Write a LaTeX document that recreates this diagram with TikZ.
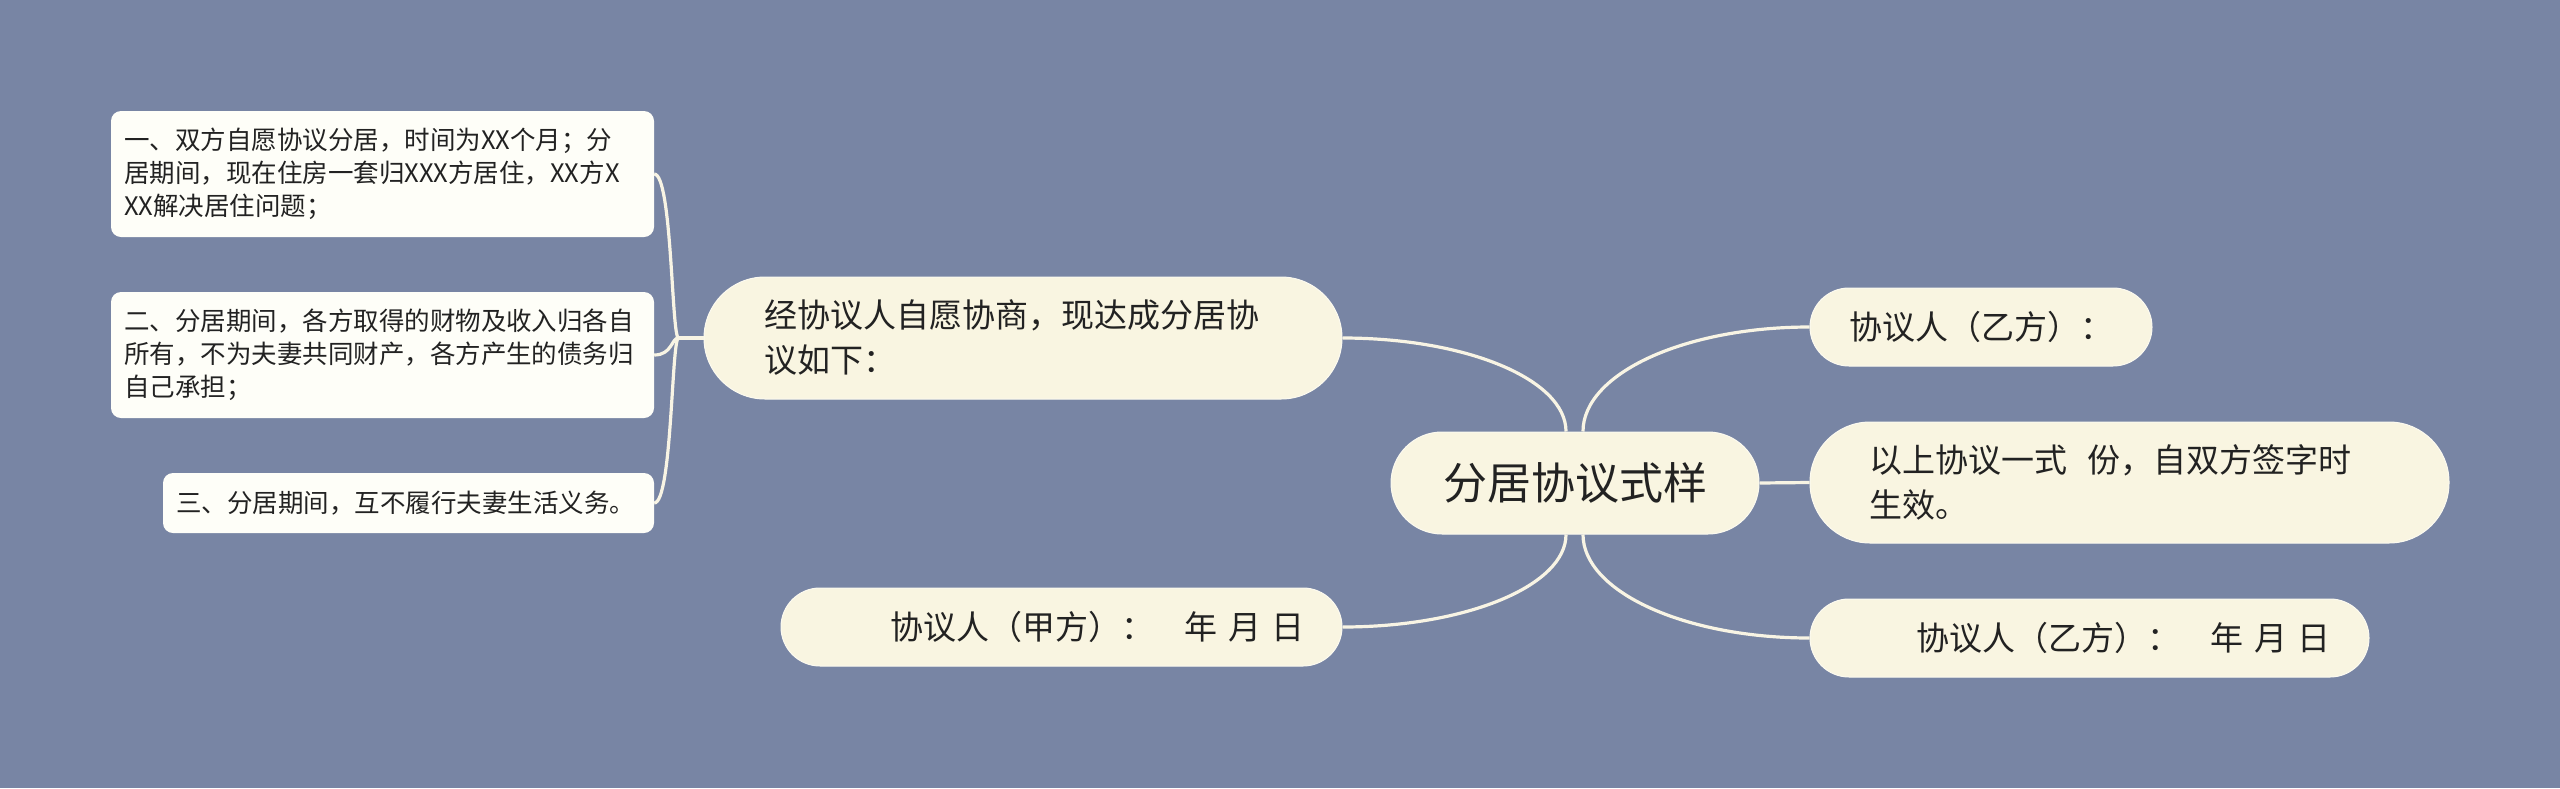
\documentclass[tikz,border=0pt]{standalone}
\usepackage{fontspec}
\setmainfont{Noto Sans CJK SC}
\definecolor{bgc}{RGB}{120,133,164}
\definecolor{pillc}{RGB}{249,245,225}
\definecolor{leafc}{RGB}{254,254,248}
\definecolor{linec}{RGB}{248,244,228}
\definecolor{txtc}{RGB}{34,34,34}
\begin{document}
\begin{tikzpicture}[x=1pt,y=-1pt,
  pill/.style={fill=pillc, draw=white!50!pillc, line width=1pt, inner sep=0pt, rounded corners=#1},
  leafbox/.style={fill=leafc, draw=none, inner sep=0pt, rounded corners=10pt},
  txt/.style={anchor=west, inner sep=0pt, align=left, text=txtc},
  big/.style={font=\fontsize{33}{45}\selectfont},
  small/.style={font=\fontsize{25.5}{33}\selectfont},
  conn/.style={draw=linec, line width=3.2pt}]
\fill[bgc] (0,0) rectangle (2560,788);
\useasboundingbox (0,0) rectangle (2560,788);
% boxes
\node[pill=51pt, minimum width=368pt, minimum height=102pt] (root) at (1575,483) {};
\node[pill=61pt, minimum width=638pt, minimum height=122pt] (jing) at (1023,338) {};
\node[pill=39pt, minimum width=561pt, minimum height=78pt] (jia) at (1061.5,627) {};
\node[pill=39pt, minimum width=342pt, minimum height=78pt] (yi1) at (1981,327) {};
\node[pill=60pt, minimum width=639pt, minimum height=121pt] (qian) at (2129.5,482.5) {};
\node[pill=39pt, minimum width=559pt, minimum height=78pt] (yi2) at (2089.5,638) {};
\node[leafbox, minimum width=543pt, minimum height=126pt] (leaf1) at (382.5,174) {};
\node[leafbox, minimum width=543pt, minimum height=126pt] (leaf2) at (382.5,355) {};
\node[leafbox, minimum width=491pt, minimum height=60pt] (leaf3) at (408.5,503) {};
% texts
\node[text=txtc, inner sep=0pt, font=\fontsize{44}{50}\selectfont] (roottxt) at (root) {分居协议式样};
\node[txt, big] (jingtxt) at ([xshift=61pt]jing.west) {经协议人自愿协商，现达成分居协\\议如下：};
\node[txt, big] (jiatxt) at ([xshift=110pt]jia.west) {协议人（甲方）：\hspace*{0.9em}年\hspace*{0.35em}月\hspace*{0.3em}日};
\node[txt, big] (yi1txt) at ([xshift=40pt]yi1.west) {协议人（乙方）：};
\node[txt, big] (qiantxt) at ([xshift=60pt]qian.west) {以上协议一式\hspace*{0.6em}份，自双方签字时\\生效。};
\node[txt, big] (yi2txt) at ([xshift=107pt]yi2.west) {协议人（乙方）：\hspace*{0.9em}年\hspace*{0.35em}月\hspace*{0.3em}日};
\node[txt, small] (leaf1txt) at ([xshift=13pt]leaf1.west) {一、双方自愿协议分居，时间为XX个月；分\\居期间，现在住房一套归XXX方居住，XX方X\\XX解决居住问题；};
\node[txt, small] (leaf2txt) at ([xshift=13pt]leaf2.west) {二、分居期间，各方取得的财物及收入归各自\\所有，不为夫妻共同财产，各方产生的债务归\\自己承担；};
\node[txt, small] (leaf3txt) at ([xshift=13pt]leaf3.west) {三、分居期间，互不履行夫妻生活义务。};
% connectors
\draw[conn] (jing.east) .. controls +(124,0) and +(0,-52) .. ([xshift=-9pt]root.north);
\draw[conn] (jia.east) .. controls +(124,0) and +(0,51) .. ([xshift=-9pt]root.south);
\draw[conn] ([xshift=8pt]root.north) .. controls +(0,-58) and +(-125,0) .. (yi1.west);
\draw[conn] ([xshift=8pt]root.south) .. controls +(0,57) and +(-125,0) .. (yi2.west);
\draw[conn] (root.east) -- (qian.west);
\coordinate (joint) at ([xshift=-25pt]jing.west);
\draw[conn] (jing.west) -- (joint);
\draw[conn] (joint) .. controls +(-7,0) and +(18,0) .. (leaf1.east);
\draw[conn] (joint) .. controls +(-7,0) and +(18,0) .. (leaf2.east);
\draw[conn] (joint) .. controls +(-7,0) and +(18,0) .. (leaf3.east);
\end{tikzpicture}
\end{document}
